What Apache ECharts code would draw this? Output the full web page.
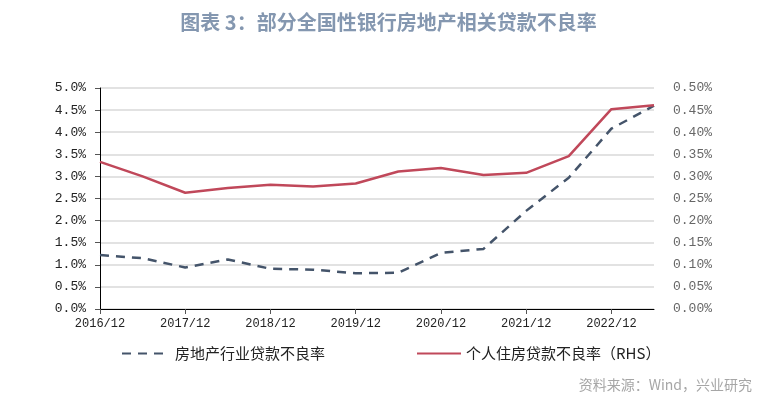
<!DOCTYPE html>
<html>
<head>
<meta charset="utf-8">
<script src="https://cdn.jsdelivr.net/npm/echarts@6/dist/echarts.min.js"></script>
<style>
html,body{margin:0;padding:0;background:#fff;}
#c{width:777px;height:402px;}
</style>
</head>
<body>
<div id="c"></div>
<script>
var categories = ['2016/12','2017/06','2017/12','2018/06','2018/12','2019/06','2019/12','2020/06','2020/12','2021/06','2021/12','2022/06','2022/12','2023/06'];
var realEstateNPL = [1.22,1.15,0.94,1.12,0.91,0.89,0.81,0.82,1.27,1.36,2.22,2.97,4.08,4.60];
var mortgageNPL = [0.333,0.300,0.263,0.274,0.281,0.277,0.284,0.311,0.319,0.303,0.308,0.346,0.452,0.461];
var leftTicks = {min:0, max:5, interval:0.5};
var rightTicks = {min:0, max:0.5, interval:0.05};
var seriesNames = ['房地产行业贷款不良率','个人住房贷款不良率（RHS）'];

var chart = echarts.init(document.getElementById('c'));
var cjk = '"Noto Sans CJK SC", "Noto Sans", sans-serif';
var mono = '"Liberation Mono", "DejaVu Sans Mono", monospace';
chart.setOption({
  animation: false,
  backgroundColor: '#fff',
  title: [{
    text: '图表 3：部分全国性银行房地产相关贷款不良率',
    left: 'center', top: 7,
    textStyle: {fontFamily: cjk, fontSize: 20, fontWeight: 'bold', color: '#8497B0'}
  }, {
    text: '资料来源：Wind，兴业研究',
    right: 20, top: 373,
    textStyle: {fontFamily: cjk, fontSize: 14, fontWeight: 'normal', color: '#A6A6A6'}
  }],
  legend: [{
    data: [seriesNames[0]],
    left: 116, top: 341,
    itemWidth: 48, itemHeight: 14, itemGap: 6,
    itemStyle: {opacity: 0},
    textStyle: {fontFamily: cjk, fontSize: 15, color: '#222'}
  }, {
    data: [seriesNames[1]],
    left: 411, top: 341,
    itemWidth: 44, itemHeight: 14, itemGap: 4,
    itemStyle: {opacity: 0},
    textStyle: {fontFamily: cjk, fontSize: 15, color: '#222'}
  }],
  grid: {left: 100, right: 123, top: 88, bottom: 93, containLabel: false},
  xAxis: {
    type: 'category',
    data: categories,
    boundaryGap: false,
    axisLine: {lineStyle: {color: '#000', width: 1}},
    axisTick: {interval: 1, length: 5, lineStyle: {color: '#555'}},
    axisLabel: {interval: 1, margin: 9, fontFamily: mono, fontSize: 12, color: '#222'},
    splitLine: {show: false}
  },
  yAxis: [{
    type: 'value',
    min: leftTicks.min, max: leftTicks.max, interval: leftTicks.interval,
    axisLine: {show: true, lineStyle: {color: '#000', width: 1}},
    axisTick: {show: true, length: 5, lineStyle: {color: '#555'}},
    axisLabel: {margin: 14, fontFamily: mono, fontSize: 13, color: '#222',
      formatter: function (v) { return v.toFixed(1) + '%'; }},
    splitLine: {show: true, lineStyle: {color: '#D9D9D9', width: 1.5}}
  }, {
    type: 'value',
    min: rightTicks.min, max: rightTicks.max, interval: rightTicks.interval,
    position: 'right',
    axisLine: {show: false},
    axisTick: {show: false},
    axisLabel: {margin: 19, fontFamily: mono, fontSize: 13, color: '#666',
      formatter: function (v) { return v.toFixed(2) + '%'; }},
    splitLine: {show: false}
  }],
  series: [{
    name: seriesNames[0],
    type: 'line',
    yAxisIndex: 0,
    data: realEstateNPL,
    symbol: 'none',
    lineStyle: {color: '#44546A', width: 2.5, type: [9, 7]},
    itemStyle: {color: '#44546A'}
  }, {
    name: seriesNames[1],
    type: 'line',
    yAxisIndex: 1,
    data: mortgageNPL,
    symbol: 'none',
    lineStyle: {color: '#C0485A', width: 2.5},
    itemStyle: {color: '#C0485A'}
  }]
});
</script>
</body>
</html>
